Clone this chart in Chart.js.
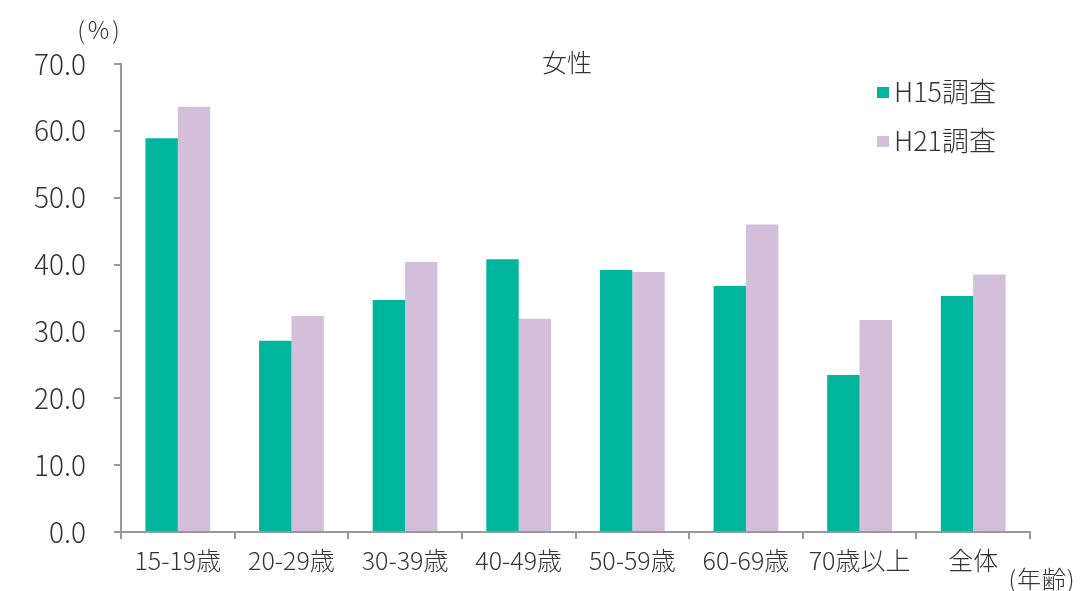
<!DOCTYPE html>
<html lang="ja">
<head>
<meta charset="utf-8">
<script src="https://cdn.jsdelivr.net/npm/chart.js@4"></script>
<style>
  html, body { margin: 0; padding: 0; background: #fff; }
  #wrap { width: 1081px; height: 591px; }
</style>
</head>
<body>
<div id="wrap"><canvas id="chart" width="1081" height="591"></canvas></div>
<script>
// 年齢階級別の割合（女性）
const ageGroups = ["15-19歳", "20-29歳", "30-39歳", "40-49歳", "50-59歳", "60-69歳", "70歳以上", "全体"];
const h15Values = [58.9, 28.6, 34.7, 40.8, 39.2, 36.8, 23.5, 35.3];
const h21Values = [63.6, 32.3, 40.4, 31.9, 38.9, 46.0, 31.7, 38.5];
const seriesNames = ["H15調査", "H21調査"];
const seriesColors = ["#00b59d", "#d4bfdb"];
const yMin = 0, yMax = 70, yStep = 10;

const FONT = '"Noto Sans CJK JP", "Noto Sans", sans-serif';
const TEXT = "#333333";
const AXIS = "#999999";

// title, legend and unit captions
const overlay = {
    id: "overlay",
    afterDraw(chart) {
        const { ctx } = chart;
        ctx.save();
        ctx.fillStyle = TEXT;
        ctx.textBaseline = "middle";
        ctx.textAlign = "center";

        ctx.font = `300 25px ${FONT}`;
        ctx.fillText("女性", 567, 62);

        ctx.font = `300 24px ${FONT}`;
        ctx.letterSpacing = "3px";
        ctx.fillText("(%)", 100, 30);
        ctx.letterSpacing = "1px";
        ctx.font = `300 24px ${FONT}`;
        ctx.fillText("(年齢)", 1042, 579);
        ctx.letterSpacing = "0px";

        // legend
        ctx.textAlign = "left";
        ctx.font = `300 27px ${FONT}`;
        chart.data.datasets.forEach((ds, i) => {
            const y = 92 + i * 49;
            ctx.fillStyle = ds.backgroundColor;
            ctx.fillRect(877, y - 5, 12, 11);
            ctx.fillStyle = TEXT;
            ctx.fillText(ds.label, 894, y);
        });
        ctx.restore();
    }
};

new Chart(document.getElementById("chart").getContext("2d"), {
    type: "bar",
    data: {
        labels: ageGroups,
        datasets: [
            { label: seriesNames[0], data: h15Values, backgroundColor: seriesColors[0] },
            { label: seriesNames[1], data: h21Values, backgroundColor: seriesColors[1] }
        ]
    },
    options: {
        responsive: false,
        animation: false,
        devicePixelRatio: 1,
        layout: { padding: { left: 0, right: 51, top: 64, bottom: 0 } },
        datasets: { bar: { categoryPercentage: 0.57, barPercentage: 1.0 } },
        plugins: {
            legend: { display: false },
            tooltip: { enabled: false }
        },
        scales: {
            x: {
                afterFit: s => { s.height = 59; },
                grid: { drawOnChartArea: false, drawTicks: true, tickLength: 7, color: AXIS, lineWidth: 2 },
                border: { color: AXIS, width: 2 },
                ticks: { color: TEXT, font: { family: FONT, size: 25, weight: 300 }, padding: 6, maxRotation: 0, autoSkip: false }
            },
            y: {
                min: yMin,
                max: yMax,
                afterFit: s => { s.width = 121; },
                grid: { drawOnChartArea: false, drawTicks: true, tickLength: 7, color: AXIS, lineWidth: 2 },
                border: { color: AXIS, width: 2 },
                ticks: {
                    stepSize: yStep,
                    color: TEXT,
                    font: { family: FONT, size: 28, weight: 300 },
                    padding: 28,
                    callback: v => v.toFixed(1)
                }
            }
        }
    },
    plugins: [overlay]
});
</script>
</body>
</html>
